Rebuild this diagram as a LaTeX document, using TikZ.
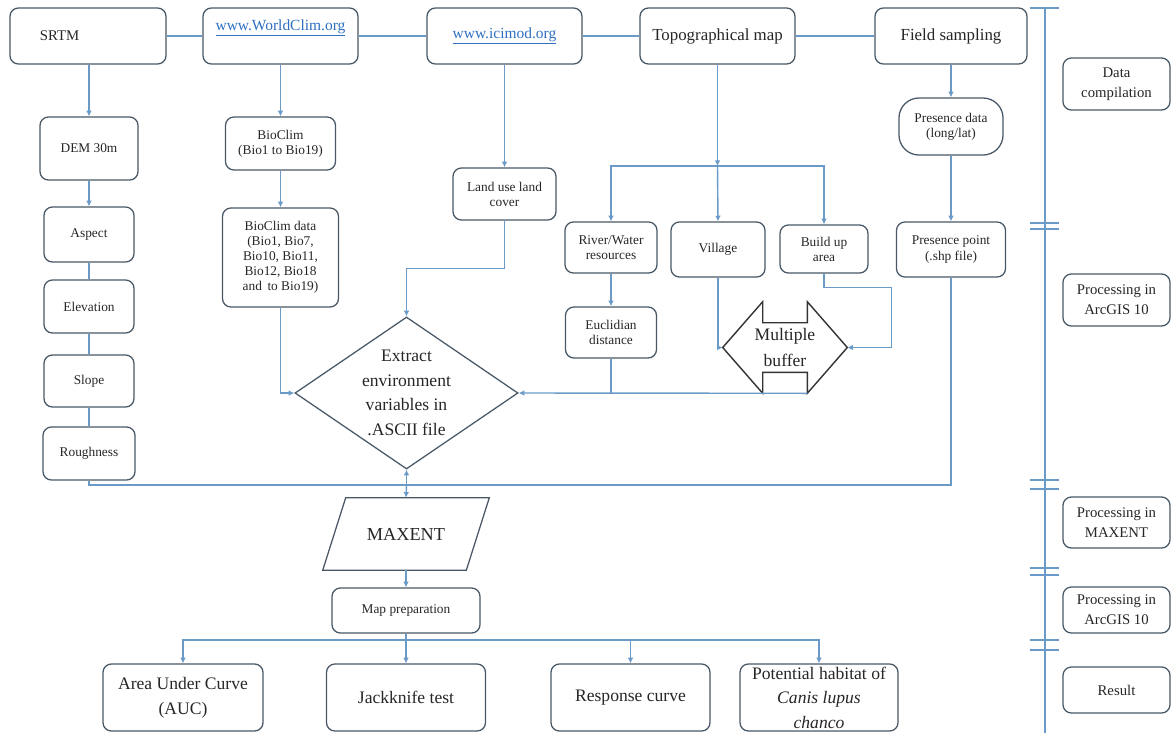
\documentclass[tikz,border=0pt]{standalone}
\usepackage{fontspec}
\setmainfont{Liberation Serif}
\usetikzlibrary{positioning,calc,arrows.meta,shapes.geometric}
\definecolor{FlowBlue}{HTML}{6A9BC8}
\definecolor{FlowEdge}{HTML}{485866}
\definecolor{FlowText}{HTML}{262626}
\definecolor{FlowLink}{HTML}{2E6FC0}
\definecolor{FlowDark}{HTML}{333333}

\begin{document}
\begin{tikzpicture}[x=0.025cm, y=-0.025cm,
    box/.style={draw=FlowEdge, rounded corners=6pt, line width=0.9pt, align=center,
      text=FlowText, inner sep=1pt},
    topbox/.style={box, minimum width=3.875cm, minimum height=1.4cm, font=\fontsize{12}{14}\selectfont},
    minibox/.style={box, font=\fontsize{9.5}{10.7}\selectfont},
    sidebox/.style={box, minimum width=2.675cm, font=\fontsize{10.5}{14}\selectfont},
    outbox/.style={box, minimum height=1.675cm, font=\fontsize{12.5}{17.5}\selectfont},
    wire/.style={draw=FlowBlue, line width=1pt},
    arrow/.style={wire, -{Latex[length=4pt,width=4pt]}}
  ]
    \useasboundingbox (0,0) rectangle (1173,733);
    \clip (0,0) rectangle (1173,733);

    % sources
    \node[topbox, minimum width=3.9cm, align=left, text width=2.4cm,
      font=\fontsize{10.5}{12}\selectfont] (srtm) at (88,36) {SRTM};
    \node[topbox, font=\fontsize{11}{13}\selectfont] (wc) at (280.5,36)
      {\raisebox{0.2cm}[\height][\depth]{\color{FlowLink}\underline{www.WorldClim.org}}};
    \node[topbox, font=\fontsize{11}{13}\selectfont] (ici) at (504.5,36)
      {\color{FlowLink}\underline{www.icimod.org}};
    \node[topbox] (topo) at (717.5,36) {Topographical map};
    \node[topbox, minimum width=3.8cm] (field) at (951,36) {Field sampling};

    % terrain
    \node[minibox, minimum width=2.45cm, minimum height=1.575cm] (dem) at (89,148.5) {DEM 30m};
    \node[minibox, minimum width=2.25cm, minimum height=1.375cm] (aspect) at (89,234.5) {Aspect};
    \node[minibox, minimum width=2.25cm, minimum height=1.325cm] (elev) at (89,306.5) {Elevation};
    \node[minibox, minimum width=2.25cm, minimum height=1.3cm] (slope) at (89,381) {Slope};
    \node[minibox, minimum width=2.3cm, minimum height=1.325cm] (rough) at (89,453.5) {Roughness};

    % climate
    \node[minibox, minimum width=2.75cm, minimum height=1.325cm] (bioclim) at (280.5,143.5)
      {BioClim\\(Bio1 to Bio19)};
    \node[minibox, minimum width=2.9cm, minimum height=2.475cm] (biodata) at (280.5,257.5)
      {BioClim data\\(Bio1, Bio7,\\Bio10, Bio11,\\Bio12, Bio18\\and\, to Bio19)};
    \node[minibox, minimum width=2.575cm, minimum height=1.3cm] (lulc) at (504.5,194)
      {Land use land\\cover};

    % topographic layers
    \node[minibox, minimum width=2.3cm, minimum height=1.275cm] (river) at (611,247.5)
      {River/Water\\resources};
    \node[minibox, minimum width=2.35cm, minimum height=1.375cm] (village) at (718,249.5) {Village};
    \node[minibox, minimum width=2.2cm, minimum height=1.2cm] (buildup) at (824,249) {Build up\\area};
    \node[minibox, minimum width=2.275cm, minimum height=1.275cm] (eucl) at (611,332.5)
      {Euclidian\\distance};

    % occurrence
    \node[minibox, rounded corners=0.5cm, minimum width=2.6cm, minimum height=1.425cm] (pdata)
      at (951,126.5) {Presence data\\(long/lat)};
    \node[minibox, minimum width=2.725cm, minimum height=1.375cm] (ppoint) at (951,249.5)
      {Presence point\\(.shp file)};

    % processing
    \node[draw=FlowEdge, line width=0.9pt, shape=diamond, aspect=1.47, inner sep=0pt,
      minimum width=5.575cm, minimum height=3.8cm, align=center, text=FlowText,
      font=\fontsize{12.5}{17.5}\selectfont] (extract) at (406.5,393)
      {Extract\\environment\\variables in\\.ASCII file};
    \node[minimum width=3.1cm, minimum height=2.275cm, inner sep=0pt, align=center,
      text=FlowText, font=\fontsize{12.5}{19}\selectfont] (mbuf) at (785,347.5) {Multiple\\buffer};
    \draw[draw=FlowDark, line width=1pt] (mbuf.west) -- ($(mbuf.north west)+(40,0)$) -- ++(0,21)
      -- ($(mbuf.north east)+(-40,21)$) -- ++(0,-21) -- (mbuf.east)
      -- ($(mbuf.south east)+(-40,0)$) -- ++(0,-21) -- ($(mbuf.south west)+(40,-21)$)
      -- ++(0,21) -- cycle;
    \node[minimum width=4.15cm, minimum height=1.8cm, inner sep=0pt, text=FlowText,
      font=\fontsize{13}{15}\selectfont] (maxent) at (406,534) {MAXENT};
    \draw[draw=FlowEdge, line width=0.9pt] ($(maxent.north west)+(23,0)$) -- (maxent.north east)
      -- ($(maxent.south east)+(-23,0)$) -- (maxent.south west) -- cycle;
    \node[minibox, minimum width=3.7cm, minimum height=1.125cm] (mapprep) at (406,610.5)
      {Map preparation};

    % outputs
    \node[outbox, minimum width=4cm] (auc) at (183,697.5) {Area Under Curve\\(AUC)};
    \node[outbox, minimum width=3.975cm] (jack) at (406,697.5) {Jackknife test};
    \node[outbox, minimum width=3.975cm] (resp) at (630.5,697.5) {Response curve};
    \node[outbox, minimum width=3.95cm] (pot) at (819,697.5)
      {Potential habitat of\\\textit{Canis lupus}\\\textit{chanco}};

    % stages
    \node[sidebox, minimum height=1.3cm] (datacomp) at (1116.5,84) {Data\\compilation};
    \node[sidebox, minimum height=1.3cm] (arcone) at (1116.5,300) {Processing in\\ArcGIS 10};
    \node[sidebox, minimum height=1.275cm] (maxproc) at (1116.5,522.5) {Processing in\\MAXENT};
    \node[sidebox, minimum height=1.15cm] (arctwo) at (1116.5,610) {Processing in\\ArcGIS 10};
    \node[sidebox, minimum height=1.15cm] (result) at (1116.5,690) {Result};
    \draw[wire] (1045,8) -- (1045,733);
    \foreach \ty in {8,223,229,480,489,568,575,640,650}
      \draw[wire] (1030,\ty) -- (1059,\ty);

    \coordinate (hub) at (406.5,485);
    \coordinate (tsplit) at (717.5,166);
    \coordinate (msplit) at (406,640);

    \draw[wire] (srtm) -- (wc);
    \draw[wire] (wc) -- (ici);
    \draw[wire] (ici) -- (topo);
    \draw[wire] (topo) -- (field);

    \draw[arrow] (dem.north |- srtm.south) -- (dem.north);
    \draw[arrow] (dem) -- (aspect);
    \draw[wire] (aspect) -- (elev);
    \draw[wire] (elev) -- (slope);
    \draw[wire] (slope) -- (rough);
    \draw[wire] (rough.south) |- (hub);

    \draw[arrow] (wc) -- (bioclim);
    \draw[arrow] (bioclim) -- (biodata);
    \draw[arrow] (biodata.south) |- (extract.west);

    \draw[arrow] (ici) -- (lulc);
    \draw[arrow] (lulc.south) -- ++(0,48) -| (extract.north);

    \draw[arrow] (topo) -- (tsplit);
    \draw[arrow] (tsplit) -| (river.north);
    \draw[arrow] (tsplit) -- (village.north);
    \draw[arrow] (tsplit) -| (buildup.north);
    \draw[arrow] (river) -- (eucl);
    \draw[wire] (eucl.south) -- (eucl.south |- extract.east);
    \draw[arrow] ($(mbuf.south east)+(-40,0)$) -- (extract.east);
    \draw[arrow] (village.south) |- (mbuf.west);
    \draw[arrow] (buildup.south) |- ($(mbuf.east)+(44,-60)$) |- (mbuf.east);

    \draw[arrow] (field) -- (pdata);
    \draw[arrow] (pdata) -- (ppoint);
    \draw[wire] (ppoint.south) |- (hub);

    \draw[arrow] (hub) -- (extract.south);
    \draw[arrow] (hub) -- (maxent.north);
    \draw[arrow] (maxent) -- (mapprep);
    \draw[wire] (mapprep.south) -- (msplit);
    \draw[arrow] (msplit) -| (auc.north);
    \draw[arrow] (msplit) -- (jack.north);
    \draw[arrow] (msplit) -| (resp.north);
    \draw[arrow] (msplit) -| (pot.north);
  \end{tikzpicture}
\end{document}
